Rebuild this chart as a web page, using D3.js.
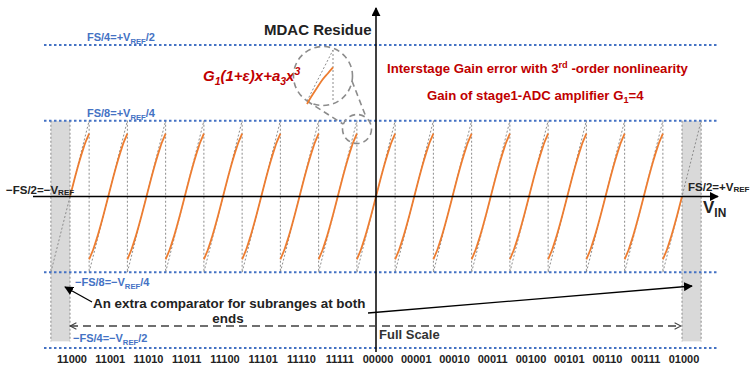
<!DOCTYPE html>
<html>
<head>
<meta charset="utf-8">
<script src="https://cdn.jsdelivr.net/npm/d3@7"></script>
<style>body{margin:0;background:#fff}</style>
</head>
<body>
<div id="chart"></div>
<script>
// codes of the first stage, one per subrange, and their input level (in FS/16)
const codes = ['11000','11001','11010','11011','11100','11101','11110','11111',
               '00000','00001','00010','00011','00100','00101','00110','00111','01000'];
const codeLevel = [-8,-7,-6,-5,-4,-3,-2,-1,0,1,2,3,4,5,6,7,8];

// reference levels (FS units)
const refValues = [0.25, 0.125, -0.125, -0.25];

// residue in one subrange: position u (-1..1 of half subrange) -> residue (units of FS/8)
const residueU = [-1,-0.95,-0.9,-0.8,-0.7,-0.6,-0.5,-0.25,0,0.25,0.5,0.6,0.7,0.8,0.9,0.95,1];
const residueV = [-0.83,-0.80,-0.77,-0.71,-0.635,-0.556,-0.471,-0.243,0,0.243,0.471,0.556,0.635,0.71,0.77,0.80,0.83];

const width = 751;
const height = 370;
const fontFamily = `"Liberation Sans", Arial, Helvetica, sans-serif`;
const blue = '#4472C4';
const red = '#C00000';
const orange = '#ED7D31';
const grey = '#8c8c8c';
const sub = 1/16;           // one subrange in FS

const xScale = d3.scaleLinear().domain([-0.5, 0.5]).range([70, 682]);
const yScale = d3.scaleLinear().domain([-0.25, 0.25]).range([348, 45]);

const svg = d3.select('#chart').append('svg')
    .attr('width', width).attr('height', height);

const defs = svg.append('defs');
defs.append('marker').attr('id', 'arrow')
    .attr('viewBox', '0 0 10 10').attr('refX', 9).attr('refY', 5)
    .attr('markerWidth', 9).attr('markerHeight', 9).attr('markerUnits', 'userSpaceOnUse')
    .attr('orient', 'auto-start-reverse')
  .append('path').attr('d', 'M0,0L10,5L0,10z').attr('fill', '#000');
defs.append('marker').attr('id', 'chev')
    .attr('viewBox', '0 0 10 10').attr('refX', 9).attr('refY', 5)
    .attr('markerWidth', 8).attr('markerHeight', 8).attr('markerUnits', 'userSpaceOnUse')
    .attr('orient', 'auto-start-reverse')
  .append('path').attr('d', 'M1,1L9,5L1,9').attr('fill', 'none').attr('stroke', '#404040').attr('stroke-width', 1.3);

function richText(x, y, parts, size, color, italic, subShift) {
    const t = svg.append('text').attr('x', x).attr('y', y)
        .style('font-family', fontFamily).style('font-size', size + 'px')
        .style('font-weight', 'bold').style('font-style', italic ? 'italic' : 'normal')
        .attr('fill', color);
    const down = subShift === undefined ? 0.25 : subShift;
    let shift = 0;
    parts.forEach(([s, kind]) => {
        const target = kind === 'sub' ? size * down : kind === 'sup' ? -size * 0.4 : 0;
        t.append('tspan').attr('dy', target - shift)
            .style('font-size', kind ? (size * 0.7) + 'px' : null).text(s);
        shift = target;
    });
    return t;
}

// grey bands for the extra comparators
const bandBottom = -0.239;
[[-0.5 - sub / 2, -0.5], [0.5, 0.5 + sub / 2]].forEach(([a, b]) => {
    svg.append('rect')
        .attr('x', xScale(a)).attr('y', yScale(0.125))
        .attr('width', xScale(b) - xScale(a)).attr('height', yScale(bandBottom) - yScale(0.125))
        .attr('fill', '#d9d9d9');
    [a, b].forEach(v => svg.append('line')
        .attr('x1', xScale(v)).attr('x2', xScale(v))
        .attr('y1', yScale(0.125)).attr('y2', yScale(bandBottom))
        .attr('stroke', grey).attr('stroke-width', 1).attr('stroke-dasharray', '2,2'));
});

// subrange boundaries
codeLevel.slice(0, -1).forEach(k => {
    const xb = xScale(k * sub + sub / 2);
    svg.append('line')
        .attr('x1', xb).attr('x2', xb)
        .attr('y1', yScale(0.125)).attr('y2', yScale(-0.125))
        .attr('stroke', grey).attr('stroke-width', 1).attr('stroke-dasharray', '2,2');
});

// ideal residue (grey dotted) and actual residue (orange)
const line = d3.line().x(d => xScale(d[0])).y(d => yScale(d[1])).curve(d3.curveMonotoneX);
codeLevel.forEach(k => {
    const c = k * sub;
    svg.append('line')
        .attr('x1', xScale(c - sub / 2)).attr('y1', yScale(-0.125))
        .attr('x2', xScale(c + sub / 2)).attr('y2', yScale(0.125))
        .attr('stroke', grey).attr('stroke-width', 1).attr('stroke-dasharray', '2,2');
    const pts = residueU.map((u, i) => [c + u * sub / 2, residueV[i] / 8])
        .filter(p => p[0] >= -0.5 - 1e-9 && p[0] <= 0.5 + 1e-9);
    svg.append('path').attr('d', line(pts))
        .attr('fill', 'none').attr('stroke', orange).attr('stroke-width', 1.8);
});

// reference levels
refValues.forEach(v => {
    svg.append('line')
        .attr('x1', 44).attr('x2', 718)
        .attr('y1', yScale(v)).attr('y2', yScale(v))
        .attr('stroke', blue).attr('stroke-width', 2).attr('stroke-dasharray', '2.5,2.5');
});

// axes
svg.append('line')
    .attr('x1', 33).attr('x2', 718).attr('y1', yScale(0)).attr('y2', yScale(0))
    .attr('stroke', '#000').attr('stroke-width', 1.5).attr('marker-end', 'url(#arrow)');
svg.append('line')
    .attr('x1', xScale(0)).attr('x2', xScale(0)).attr('y1', 352).attr('y2', 8)
    .attr('stroke', '#000').attr('stroke-width', 1.5).attr('marker-end', 'url(#arrow)');

// codes under the chart
svg.selectAll('.code').data(codes).join('text')
    .attr('class', 'code')
    .attr('x', (d, i) => xScale(codeLevel[i] * sub) + 2)
    .attr('y', 363)
    .attr('text-anchor', 'middle')
    .style('font-family', fontFamily).style('font-size', '11px').style('font-weight', 'bold')
    .attr('fill', '#222')
    .text(d => d);

// labels
svg.append('text').attr('x', 264).attr('y', 35)
    .style('font-family', fontFamily).style('font-size', '15px').style('font-weight', 'bold')
    .attr('fill', '#222').text('MDAC Residue');

richText(87, 41, [['FS/4=+V'], ['REF', 'sub'], ['/2']], 11, blue);
richText(87, 117, [['FS/8=+V'], ['REF', 'sub'], ['/4']], 11, blue);
richText(75, 286, [['\u2212FS/8=\u2212V'], ['REF', 'sub'], ['/4']], 11, blue);
richText(73, 342, [['\u2212FS/4=\u2212V'], ['REF', 'sub'], ['/2']], 11, blue);
richText(6, 194, [['\u2212FS/2=\u2212V'], ['REF', 'sub']], 11.5, '#222', false, 0.05);
richText(688, 191, [['FS/2=+V'], ['REF', 'sub']], 11.5, '#222', false, 0.05);
richText(703, 213, [['V'], ['IN', 'sub']], 17, '#222');

richText(203, 81, [['G'], ['1', 'sub'], ['(1+\u03B5)x+a'], ['3', 'sub'], ['x'], ['3', 'sup']], 15, red, true);
richText(387, 73, [['Interstage Gain error with 3'], ['rd', 'sup'], [' -order nonlinearity']], 13.2, red);
richText(427, 100, [['Gain of stage1-ADC amplifier G'], ['1', 'sub'], ['=4']], 13.2, red);

// magnified inset
const ix = d3.scaleLinear().domain([0.5, 1]).range([307, 333]);
const iy = d3.scaleLinear().domain([0.5, 1]).range([101, 50]);
const dashed = sel => sel.attr('fill', 'none').attr('stroke', grey).attr('stroke-width', 1.6).attr('stroke-dasharray', '6,4');
svg.append('circle').attr('cx', 323).attr('cy', 76).attr('r', 29.5).call(dashed);
svg.append('circle').attr('cx', 357).attr('cy', 129).attr('r', 14.5).call(dashed);
svg.append('line').attr('x1', 307).attr('y1', 101).attr('x2', 343).attr('y2', 124).call(dashed);
svg.append('line').attr('x1', 352).attr('y1', 81).attr('x2', 366).attr('y2', 117).call(dashed);
svg.append('line')
    .attr('x1', ix(0.5)).attr('y1', iy(0.5)).attr('x2', ix(1)).attr('y2', iy(1))
    .attr('stroke', grey).attr('stroke-width', 1).attr('stroke-dasharray', '2,2');
svg.append('line')
    .attr('x1', ix(1)).attr('y1', iy(1)).attr('x2', ix(1)).attr('y2', iy(0.5))
    .attr('stroke', grey).attr('stroke-width', 1).attr('stroke-dasharray', '2,2');
const insetPts = residueU.map((u, i) => [u, residueV[i]]).filter(p => p[0] >= 0.5);
svg.append('path')
    .attr('d', d3.line().x(d => ix(d[0])).y(d => iy(d[1])).curve(d3.curveMonotoneX)(insetPts))
    .attr('fill', 'none').attr('stroke', orange).attr('stroke-width', 1.8);

// extra comparator annotation
svg.append('line').attr('x1', 92).attr('y1', 302).attr('x2', 65).attr('y2', 287)
    .attr('stroke', '#000').attr('stroke-width', 1.3).attr('marker-end', 'url(#arrow)');
svg.append('line').attr('x1', 368).attr('y1', 313).attr('x2', 692).attr('y2', 286)
    .attr('stroke', '#000').attr('stroke-width', 1.3).attr('marker-end', 'url(#arrow)');
svg.append('text').attr('x', 93).attr('y', 308)
    .style('font-family', fontFamily).style('font-size', '13.4px').style('font-weight', 'bold')
    .attr('fill', '#222').text('An extra comparator for subranges at both');
svg.append('text').attr('x', 228).attr('y', 323).attr('text-anchor', 'middle')
    .style('font-family', fontFamily).style('font-size', '13.4px').style('font-weight', 'bold')
    .attr('fill', '#222').text('ends');

// full scale
svg.append('line')
    .attr('x1', xScale(-0.5)).attr('x2', xScale(0.5) - 1).attr('y1', 326).attr('y2', 326)
    .attr('stroke', '#404040').attr('stroke-width', 1.5).attr('stroke-dasharray', '8,5')
    .attr('marker-start', 'url(#chev)').attr('marker-end', 'url(#chev)');
svg.append('text').attr('x', 379).attr('y', 339)
    .style('font-family', fontFamily).style('font-size', '13px').style('font-weight', 'bold')
    .attr('fill', '#333').text('Full Scale');
</script>
</body>
</html>
